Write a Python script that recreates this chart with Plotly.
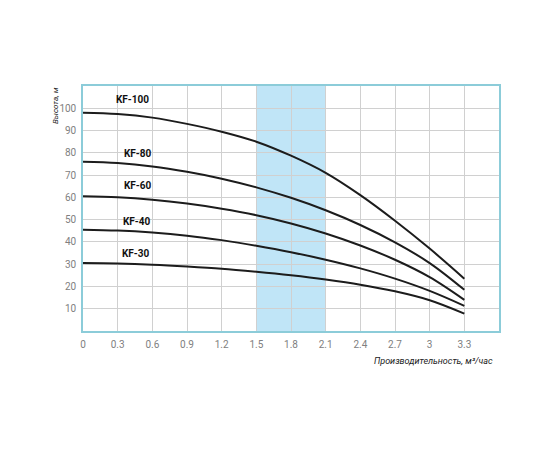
import plotly.graph_objects as go

flow = [0, 0.3, 0.6, 0.9, 1.2, 1.5, 1.8, 2.1, 2.4, 2.7, 3.0, 3.3]
kf100 = [98, 97.4, 95.8, 93, 89.5, 85, 78.7, 71, 61, 49.5, 37, 23.5]
kf80 = [76, 75.4, 73.9, 71.5, 68.4, 64.5, 59.8, 54.2, 47.6, 39.8, 30.5, 18.5]
kf60 = [60.5, 60, 58.9, 57.2, 54.9, 52, 48.3, 43.8, 38.4, 32, 24.2, 14]
kf40 = [45.5, 45.1, 44.2, 42.8, 40.8, 38.3, 35.4, 32.0, 28.1, 23.5, 18.0, 11.3]
kf30 = [30.5, 30.3, 29.8, 29, 28, 26.6, 25, 23.1, 20.8, 17.8, 13.8, 7.8]
series_names = ["KF-100", "KF-80", "KF-60", "KF-40", "KF-30"]
label_x = [0.43, 0.48, 0.48, 0.47, 0.46]
label_y = [104, 79.6, 65.4, 49.3, 35]
band = [1.5, 2.1]
x_ticks = [0, 0.3, 0.6, 0.9, 1.2, 1.5, 1.8, 2.1, 2.4, 2.7, 3.0, 3.3]
x_tick_text = ["0", "0.3", "0.6", "0.9", "1.2", "1.5", "1.8", "2.1", "2.4", "2.7", "3", "3.3"]
y_ticks = [10, 20, 30, 40, 50, 60, 70, 80, 90, 100]

fig = go.Figure()
for name, vals in zip(series_names, [kf100, kf80, kf60, kf40, kf30]):
    fig.add_trace(go.Scatter(x=flow, y=vals, mode="lines", name=name,
                             line=dict(color="#1c1c1c", width=2, shape="spline", smoothing=1.0),
                             hoverinfo="skip"))

fig.add_shape(type="rect", xref="x", yref="paper", x0=band[0], x1=band[1], y0=0, y1=1,
              fillcolor="#c0e5f7", line=dict(width=0), layer="below")

lab_font = dict(family="Liberation Sans Narrow, Arial Narrow, Roboto, sans-serif", size=10, color="#111111")
for name, lx, ly in zip(series_names, label_x, label_y):
    fig.add_annotation(x=lx, y=ly, text="<b>" + name + "</b>", showarrow=False, font=lab_font,
                       xanchor="center", yanchor="middle")

fig.add_annotation(xref="paper", yref="paper", x=-0.05, y=1.005, text="<i>Высота, м</i>",
                   textangle=-90, showarrow=False, xanchor="right", yanchor="top",
                   font=dict(family="Liberation Sans Narrow, Arial Narrow, Roboto, sans-serif", size=8, color="#222222"))
fig.add_annotation(xref="paper", yref="paper", x=0.99, y=-0.095, text="<i>Производительность, м³/час</i>",
                   showarrow=False, xanchor="right", yanchor="top",
                   font=dict(family="Liberation Sans Narrow, Arial Narrow, Roboto, sans-serif", size=9, color="#222222"))

axis_font = dict(family="Liberation Sans Narrow, Arial Narrow, Roboto, sans-serif", size=10, color="#808080")
fig.update_xaxes(range=[0, 3.6], tickvals=x_ticks, ticktext=x_tick_text, showgrid=True,
                 gridcolor="#d0d0d0", gridwidth=1, showline=True, linecolor="#8cccd9", linewidth=1.5,
                 mirror=True, zeroline=False, tickfont=axis_font, ticks="", ticklabelstandoff=3)
fig.update_yaxes(range=[0, 110], tickvals=y_ticks, showgrid=True, gridcolor="#d0d0d0", gridwidth=1,
                 showline=True, linecolor="#8cccd9", linewidth=1.5, mirror=True, zeroline=False,
                 tickfont=axis_font, ticks="", ticklabelstandoff=3)
fig.update_layout(width=550, height=450, showlegend=False, plot_bgcolor="white", paper_bgcolor="white",
                  margin=dict(l=75, r=59, t=78, b=127, autoexpand=False))
fig.write_html("out.html")
